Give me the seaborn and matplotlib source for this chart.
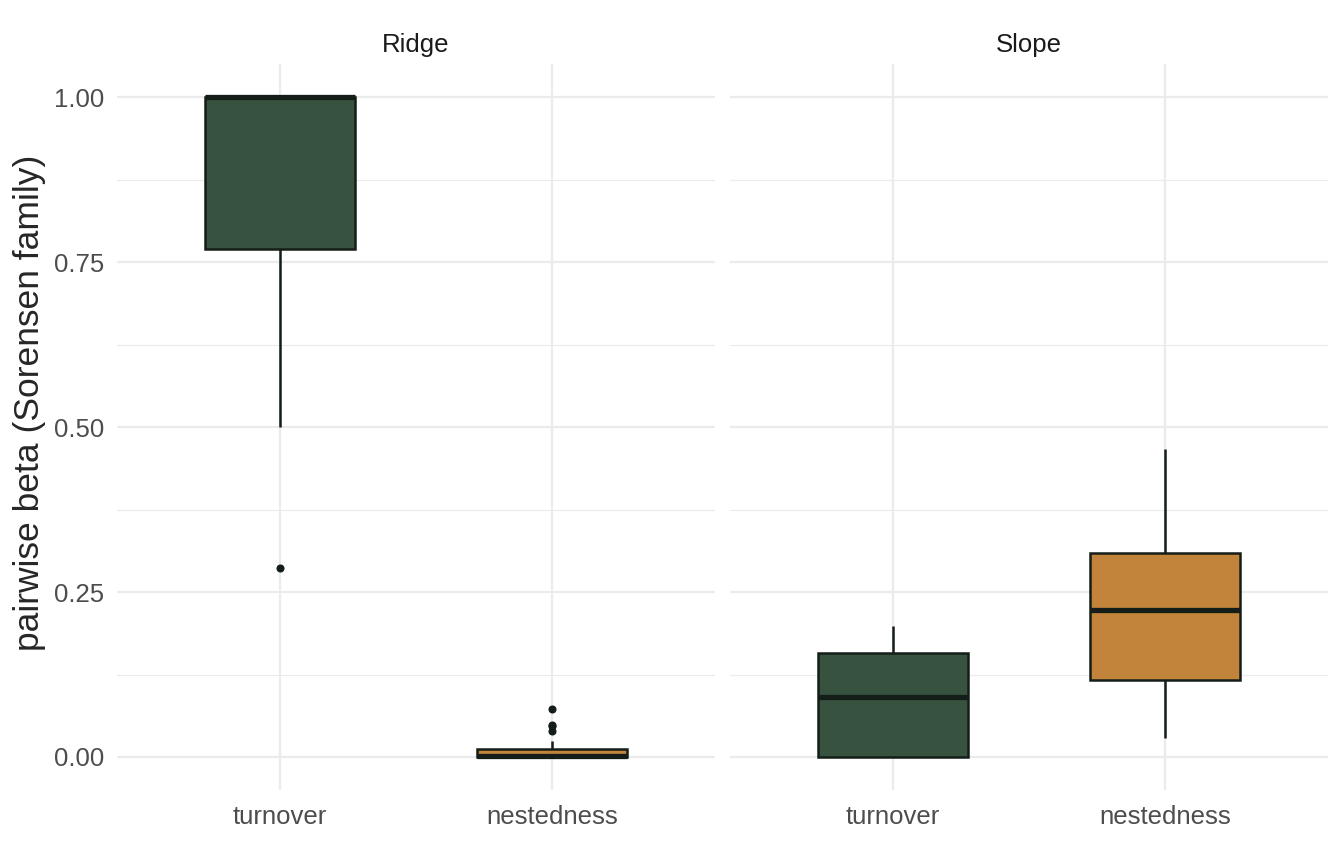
import numpy as np
import pandas as pd
import seaborn as sns
import matplotlib.pyplot as plt

# values (chosen so quartiles/whiskers/outliers match)
ridge_turnover = [0.286, 0.5, 0.77, 0.88, 1.0, 1.0, 1.0, 1.0, 1.0]
ridge_nestedness = [0, 0, 0, 0, 0, 0, 0, 0, 0, 0, 0.001, 0.003, 0.005, 0.008,
                    0.010, 0.012, 0.024, 0.039, 0.047, 0.049, 0.072]
slope_turnover = [0, 0, 0, 0.05, 0.091, 0.12, 0.158, 0.18, 0.199]
slope_nestedness = [0.029, 0.08, 0.117, 0.18, 0.223, 0.26, 0.309, 0.39, 0.466]

sites = ["Ridge", "Slope"]
components = ["turnover", "nestedness"]
colors = {"turnover": "#37523F", "nestedness": "#C2843A"}
dark = "#141D17"

rows = []
for site, comp, vals in [("Ridge", "turnover", ridge_turnover),
                         ("Ridge", "nestedness", ridge_nestedness),
                         ("Slope", "turnover", slope_turnover),
                         ("Slope", "nestedness", slope_nestedness)]:
    for v in vals:
        rows.append((site, comp, v))
df = pd.DataFrame(rows, columns=["site", "component", "beta"])

sns.set_theme(style="whitegrid")
plt.rcParams['font.family'] = ['Liberation Sans', 'DejaVu Sans']

fig, axes = plt.subplots(1, 2, figsize=(13.44, 8.44), dpi=100, sharey=True)
fig.subplots_adjust(left=0.087, right=0.988, top=0.924, bottom=0.064, wspace=0.025)

for ax, site in zip(axes, sites):
    sns.boxplot(data=df[df.site == site], x="component", y="beta", hue="component",
                order=components, hue_order=components, palette=colors, legend=False,
                saturation=1, width=0.55, linewidth=1.8, linecolor=dark, whis=1.5, ax=ax,
                medianprops=dict(linewidth=3.8, color=dark),
                whiskerprops=dict(linewidth=1.8, color=dark),
                capprops=dict(linewidth=0),
                flierprops=dict(marker="o", markersize=4.8, markerfacecolor=dark,
                                markeredgecolor=dark))
    ax.set_xlim(-0.6, 1.6)
    ax.set_ylim(-0.05, 1.05)
    ax.set_yticks([0, 0.25, 0.5, 0.75, 1.0])
    ax.set_yticklabels(["0.00", "0.25", "0.50", "0.75", "1.00"])
    ax.set_yticks([0.125, 0.375, 0.625, 0.875], minor=True)
    ax.grid(True, which="major", color="#EBEBEB", linewidth=1.6)
    ax.grid(True, which="minor", axis="y", color="#EBEBEB", linewidth=0.8)
    ax.set_axisbelow(True)
    for s in ax.spines.values():
        s.set_visible(False)
    ax.tick_params(axis="both", which="both", length=0, labelsize=18.5,
                   labelcolor="#4D4D4D", pad=9)
    ax.tick_params(axis="x", pad=10.5)
    ax.set_xlabel("")
    ax.set_ylabel("")
    ax.set_title(site, fontsize=18.5, color="#1A1A1A", pad=9)

axes[0].set_ylabel("pairwise beta (Sorensen family)", fontsize=25.5)
axes[0].yaxis.set_label_coords(-0.118, 0.534)

plt.savefig("out.png", dpi=100)
